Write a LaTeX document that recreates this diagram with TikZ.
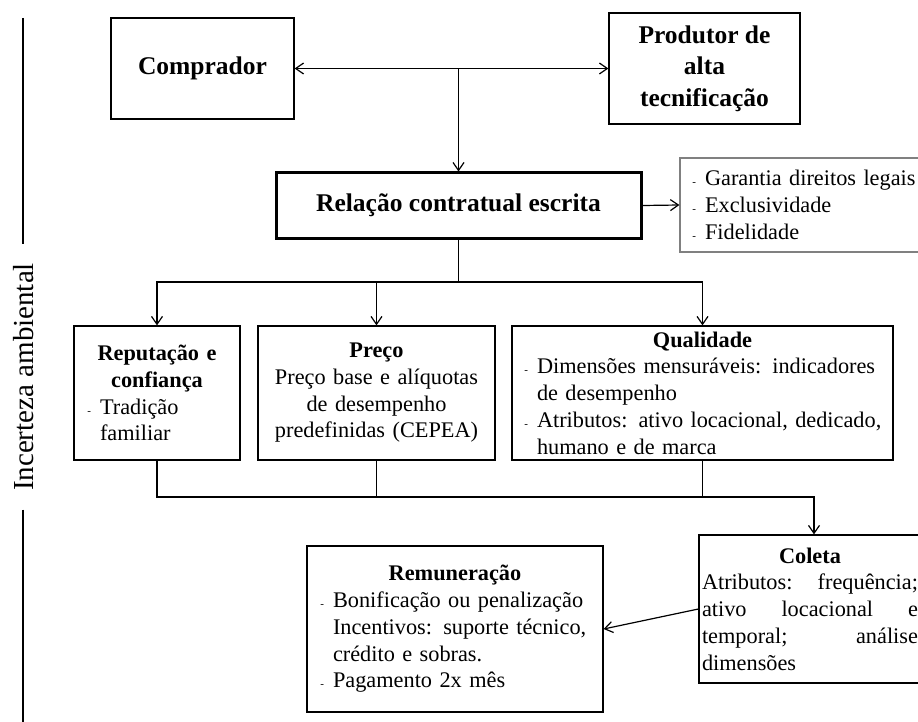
\documentclass[tikz,border=0pt]{standalone}
\usepackage{fontspec}
\setmainfont{Liberation Serif}
\usetikzlibrary{arrows.meta}
\setlength{\parindent}{0pt}

\newcommand{\bodyfont}{\fontsize{22.3}{26.7}\selectfont}
\newcommand{\headfont}{\fontsize{25.5}{31.5}\selectfont\bfseries}
\newcommand{\itm}{\leavevmode\llap{\fontsize{11}{11}\selectfont -\hspace{9pt}}}

\begin{document}
\begin{tikzpicture}[x=1pt, y=-1pt, line width=1.2pt,
    >={Straight Barb[length=8pt,width=11pt]},
    box/.style={draw, inner xsep=3pt, inner ysep=1pt, font=\bodyfont},
    headbox/.style={draw, align=center, font=\headfont}]
        \useasboundingbox (0,0) rectangle (918,722);
        \clip (0,0) rectangle (918,722);

        \node[headbox, minimum width=183pt, minimum height=101pt] (comp) at (202.5,68.5) {Comprador};
        \node[headbox, minimum width=191pt, minimum height=111pt] (prod) at (704.5,68.5) {Produtor de\\alta\\tecnificação};
        \node[headbox, line width=3pt, minimum width=365pt, minimum height=65pt] (rel) at (458.5,205.5) {Relação contratual escrita};
        \node[box, draw=black!50, text width=244pt, minimum height=94pt] (gar) at (805,205)
            {\leftskip=22pt \itm Garantia direitos legais\\ \itm Exclusividade\\ \itm Fidelidade\par};

        \node[box, text width=160pt, minimum height=134pt] (rep) at (157,393)
            {{\centering\bfseries Reputação e\\confiança\par}
             \leftskip=23pt \itm Tradição\\familiar\par};
        \node[box, text width=231pt, minimum height=134pt] (pre) at (376.5,393)
            {\centering{\bfseries Preço}\\Preço base e alíquotas\\de desempenho\\predefinidas (CEPEA)\par};
        \node[box, text width=375pt, minimum height=134pt] (qua) at (702.5,393)
            {{\centering\bfseries Qualidade\par}
             \leftskip=22pt \itm Dimensões mensuráveis: indicadores\\de desempenho\\
             \itm Atributos: ativo locacional, dedicado,\\humano e de marca\par};

        \node[box, text width=216pt, minimum height=148pt] (col) at (810,609)
            {{\centering\bfseries Coleta\par}
             \hbox to 216pt{Atributos:\hfill frequência;}
             \hbox to 216pt{ativo\hfill locacional\hfill e}
             \hbox to 216pt{temporal;\hfill análise}
             \hbox to 216pt{dimensões\hfill}};
        \node[box, text width=290pt, minimum height=166pt] (rem) at (455,629)
            {{\centering\bfseries Remuneração\par}
             \leftskip=23pt \itm Bonificação ou penalização\\Incentivos: suporte técnico,\\crédito e sobras.\\ \itm Pagamento 2x mês\par};

        % incerteza ambiental
        \node[rotate=90, font=\fontsize{29}{29}\selectfont, inner xsep=18pt, inner ysep=0pt] (unc) at (24,377) {Incerteza ambiental};
        \coordinate (unctop) at (23,18);
        \coordinate (uncbot) at (23,722);
        \draw (unctop) -- (unctop |- unc.east);
        \draw (uncbot |- unc.west) -- (uncbot);

        \draw[<->] (comp.east) -- (prod.west);
        \draw[->] (rel.north |- comp.east) -- (rel.north);
        \draw[->] (rel.east) -- (gar.west);

        \coordinate (fork) at (458.5,282);
        \draw (rel.south) -- (fork);
        \draw[->] (fork) -| (rep.north);
        \draw[->] (fork) -| (pre.north);
        \draw[->] (fork) -| (qua.north);

        \coordinate (merge) at (814,497);
        \draw[->] (rep.south) |- (merge) -- (merge |- col.north);
        \draw (pre.south) -- (pre.south |- merge);
        \draw (qua.south) -- (qua.south |- merge);
        \draw[->] (col.west) -- (rem.east);
    \end{tikzpicture}
\end{document}
